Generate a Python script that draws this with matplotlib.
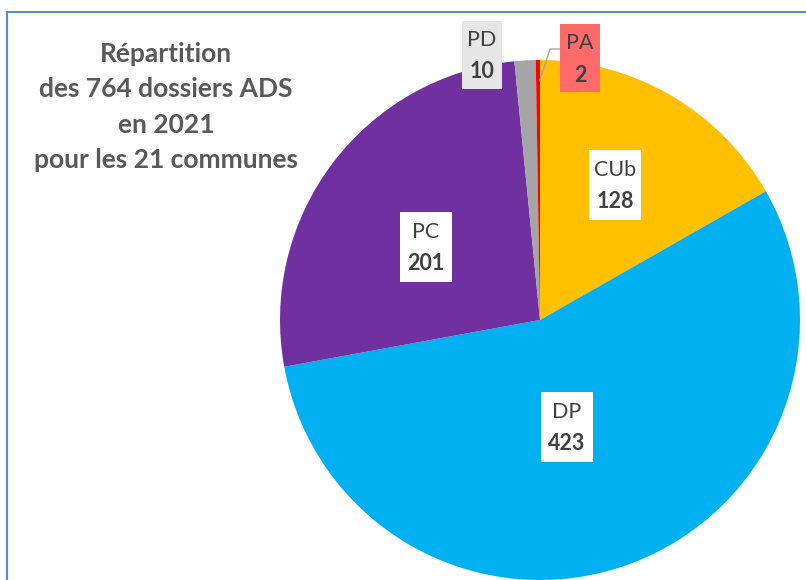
import matplotlib.pyplot as plt
from matplotlib.patches import Rectangle

# Data
categories = ["CUb", "DP", "PC", "PD", "PA"]
counts = [128, 423, 201, 10, 2]
colors = ["#FFC000", "#00B0F0", "#7030A0", "#A5A5A5", "#FF0000"]
title = "Répartition\ndes 764 dossiers ADS\nen 2021\npour les 21 communes"

# label placement in pixel coords (x, y from top), box fill
label_pos = {
    "CUb": (615, 185, "white"),
    "DP": (567, 427, "white"),
    "PC": (426, 247, "white"),
    "PD": (482, 55, "#E6E6E6"),
    "PA": (580, 58, "#FF6B6B"),
}

W, H = 806, 580
FONT = ["Lato", "DejaVu Sans"]
TXT = "#404040"


def Y(y):
    # pixel-from-top -> data y
    return H - y


fig = plt.figure(figsize=(W / 100, H / 100), dpi=100)
ax = fig.add_axes([0, 0, 1, 1])

ax.pie(counts, colors=colors, startangle=90, counterclock=False,
       center=(540, Y(320)), radius=260,
       wedgeprops=dict(linewidth=0))
ax.set_xlim(0, W)
ax.set_ylim(0, H)
ax.set_aspect("equal")
ax.axis("off")

# chart border (top and left only visible)
ax.plot([7, W], [Y(12), Y(12)], color="#5B8BC9", lw=1.5, clip_on=False)
ax.plot([7, 7], [Y(12), 0], color="#5B8BC9", lw=1.5, clip_on=False)

# title
ax.text(166, Y(107), title, ha="center", va="center", fontsize=19,
        fontweight="bold", color="#595959", family=FONT, linespacing=1.58)

# leader line for PA
ax.plot([540, 550, 561], [Y(80), Y(49), Y(49)], color="#A5A5A5", lw=1)

# data labels
for cat, val in zip(categories, counts):
    x, y, fc = label_pos[cat]
    bw, bh = (52, 70) if cat in ("CUb", "DP", "PC") else (40, 68)
    ax.add_patch(Rectangle((x - bw / 2, Y(y) - bh / 2), bw, bh,
                           facecolor=fc, edgecolor="none", zorder=3))
    ax.text(x, Y(y - 15), cat, ha="center", va="center", fontsize=15.5,
            color=TXT, family=FONT, zorder=4)
    ax.text(x, Y(y + 17), str(val), ha="center", va="center", fontsize=15.5,
            fontweight="bold", color=TXT, family=FONT, zorder=4)

fig.savefig("out.png", dpi=100)
